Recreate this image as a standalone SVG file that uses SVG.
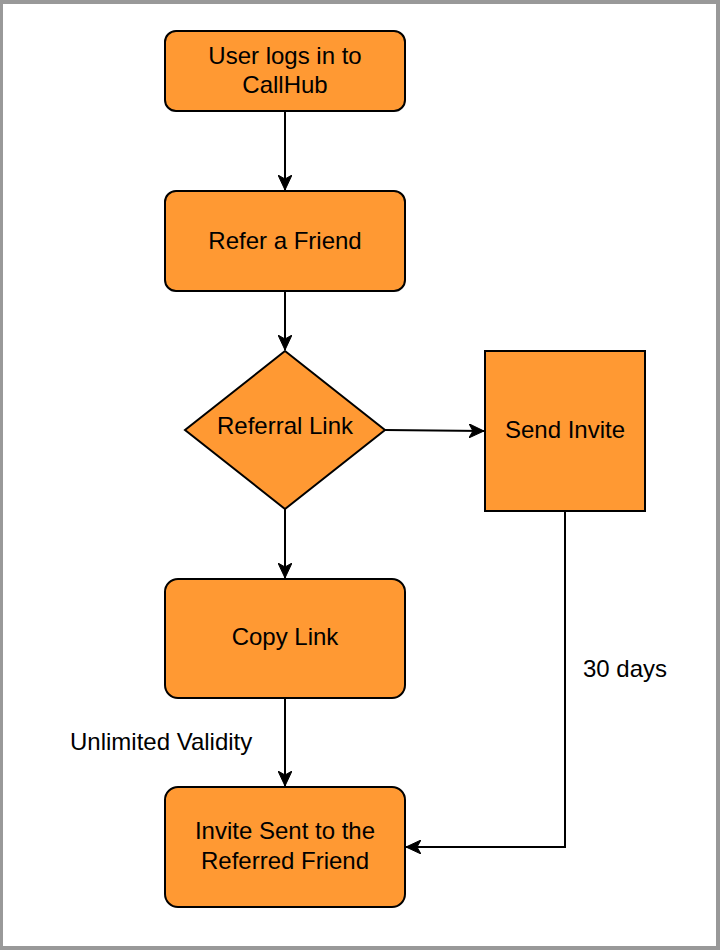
<svg xmlns="http://www.w3.org/2000/svg" width="720" height="950" viewBox="0 0 720 950">
<defs>
<style>
.node{fill:#ff9933;stroke:#000;stroke-width:2}
.lbl{font-family:"Liberation Sans",Arial,Helvetica,sans-serif;font-size:24px;fill:#000;text-anchor:middle}
.elbl{font-family:"Liberation Sans",Arial,Helvetica,sans-serif;font-size:24px;fill:#000}
.edge{fill:none;stroke:#000;stroke-width:2;marker-end:url(#arrow)}
</style>
<marker id="arrow" markerUnits="userSpaceOnUse" markerWidth="16" markerHeight="14" refX="15" refY="7" orient="auto" viewBox="0 0 16 14">
<path d="M0,0 L15,7 L0,14 L4,7 Z" fill="#000" stroke="#000" stroke-width="1"/>
</marker>
</defs>
<rect x="0" y="0" width="720" height="950" fill="#999999"/>
<rect x="3" y="4" width="713" height="942" fill="#ffffff"/>
<g id="connectors">
<path class="edge" d="M285,111 L285,190"/>
<path class="edge" d="M285,291 L285,350"/>
<path class="edge" d="M385,430 L484,431"/>
<path class="edge" d="M285,509 L285,578"/>
<path class="edge" d="M285,698 L285,786"/>
<path class="edge" d="M565,511 L565,847 L406,847"/>
<text class="elbl" x="70" y="750">Unlimited Validity</text>
<text class="elbl" x="583" y="677">30 days</text>
</g>
<g id="node-login">
<rect class="node" x="165" y="31" width="240" height="80" rx="11" ry="11"/>
<text class="lbl" x="285" y="64">User logs in to</text>
<text class="lbl" x="285" y="93">CallHub</text>
</g>
<g id="node-refer">
<rect class="node" x="165" y="191" width="240" height="100" rx="11" ry="11"/>
<text class="lbl" x="285" y="249">Refer a Friend</text>
</g>
<g id="node-referral-link">
<polygon class="node" points="285,351 385,430 285,509 185,430"/>
<text class="lbl" x="285" y="434">Referral Link</text>
</g>
<g id="node-send-invite">
<rect class="node" x="485" y="351" width="160" height="160"/>
<text class="lbl" x="565" y="438">Send Invite</text>
</g>
<g id="node-copy-link">
<rect class="node" x="165" y="579" width="240" height="119" rx="13" ry="13"/>
<text class="lbl" x="285" y="645">Copy Link</text>
</g>
<g id="node-invite-sent">
<rect class="node" x="165" y="787" width="240" height="120" rx="13" ry="13"/>
<text class="lbl" x="285" y="839">Invite Sent to the</text>
<text class="lbl" x="285" y="869">Referred Friend</text>
</g>
</svg>
